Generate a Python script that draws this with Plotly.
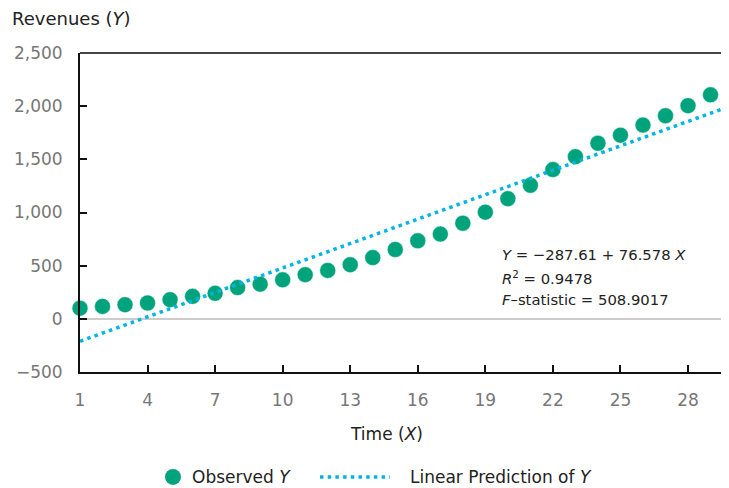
import plotly.graph_objects as go

time_x = list(range(1, 31))
revenues_y = [100, 117, 133, 149, 180, 212, 240, 294, 326, 367, 415, 455, 509, 576, 652,
              734, 797, 899, 1003, 1130, 1256, 1404, 1525, 1651, 1727, 1822, 1910, 2005, 2107, 2221]
intercept = -287.61
slope = 76.578
predicted_y = [intercept + slope * x for x in time_x]
x_ticks = [1, 4, 7, 10, 13, 16, 19, 22, 25, 28]
y_ticks = [-500, 0, 500, 1000, 1500, 2000, 2500]
stats_lines = [
    "<i>Y</i> = \u2212287.61 + 76.578 <i>X</i>",
    "<i>R</i><sup>2</sup> = 0.9478",
    "<i>F</i>\u2013statistic = 508.9017",
]

GREEN = "#00a37b"
CYAN = "#00b4e3"
FONT = "DejaVu Sans"
DARK = "#222222"
GRAY = "#777777"

fig = go.Figure()
fig.add_trace(go.Scatter(
    x=time_x, y=revenues_y, mode="markers", name="Observed <i>Y</i>",
    marker=dict(color=GREEN, size=16, line=dict(color="white", width=0.5)),
    cliponaxis=False, showlegend=False,
))
fig.add_trace(go.Scatter(
    x=time_x, y=predicted_y, mode="lines", name="Linear Prediction of <i>Y</i>",
    line=dict(color=CYAN, width=3.5, dash="3.5px,4.2px"), showlegend=False,
))

# Page has an 8px body margin; plot area in page pixels: x 80..729, y 53..372
LEG_Y = -0.329
STAT_Y = [0.3668, 0.2978, 0.2288]

annotations = [
    dict(text="Revenues (<i>Y</i>)", xref="paper", yref="paper", x=-0.1079, y=1.1097,
         xanchor="left", yanchor="middle", showarrow=False,
         font=dict(size=18, color=DARK)),
    dict(text="Time (<i>X</i>)", xref="paper", yref="paper", x=0.4715, y=-0.194,
         xanchor="center", yanchor="middle", showarrow=False,
         font=dict(size=17, color=DARK)),
    dict(text="Observed <i>Y</i>", xref="paper", yref="paper", x=0.1695, y=LEG_Y,
         xanchor="left", yanchor="middle", showarrow=False,
         font=dict(size=17, color=DARK)),
    dict(text="Linear Prediction of <i>Y</i>", xref="paper", yref="paper", x=0.5054, y=LEG_Y,
         xanchor="left", yanchor="middle", showarrow=False,
         font=dict(size=17, color=DARK)),
]
for line_text, yy in zip(stats_lines, STAT_Y):
    annotations.append(dict(text=line_text, xref="paper", yref="paper", x=0.6471, y=yy,
                            xanchor="left", yanchor="middle", align="left", showarrow=False,
                            font=dict(size=14.8, color=DARK)))

fig.update_layout(
    width=721, height=480,
    margin=dict(l=72, r=0, t=45, b=116, autoexpand=False),
    paper_bgcolor="white", plot_bgcolor="white",
    font=dict(family=FONT, size=17, color=DARK),
    showlegend=False,
    xaxis=dict(
        range=[1, 29.82], tickvals=x_ticks, ticks="inside", ticklen=7, tickwidth=1.5,
        tickcolor="#111111", showline=True, linecolor="#111111", linewidth=2,
        showgrid=False, zeroline=False, tickfont=dict(size=17, color=GRAY),
        ticklabelstandoff=12, automargin=False,
    ),
    yaxis=dict(
        range=[-500, 2500], tickvals=y_ticks, ticks="inside", ticklen=7, tickwidth=1.5,
        tickcolor="#111111", showline=True, linecolor="#111111", linewidth=2,
        showgrid=False, zeroline=True, zerolinecolor="#cccccc", zerolinewidth=1.5,
        tickformat=",d", tickfont=dict(size=17, color=GRAY),
        ticklabelstandoff=12, automargin=False,
    ),
    shapes=[
        dict(type="line", xref="paper", yref="paper", x0=0, x1=1, y0=1, y1=1,
             line=dict(color="#444444", width=2)),
        dict(type="circle", xref="paper", yref="paper", xsizemode="pixel", ysizemode="pixel",
             xanchor=0.1433, yanchor=LEG_Y, x0=-8, x1=8, y0=-8, y1=8,
             fillcolor=GREEN, line=dict(color=GREEN, width=0)),
        dict(type="line", xref="paper", yref="paper", x0=0.3698, x1=0.4777, y0=LEG_Y, y1=LEG_Y,
             line=dict(color=CYAN, width=3.5, dash="3.5px,4.2px")),
    ],
    annotations=annotations,
)

fig.write_html("out.html")
